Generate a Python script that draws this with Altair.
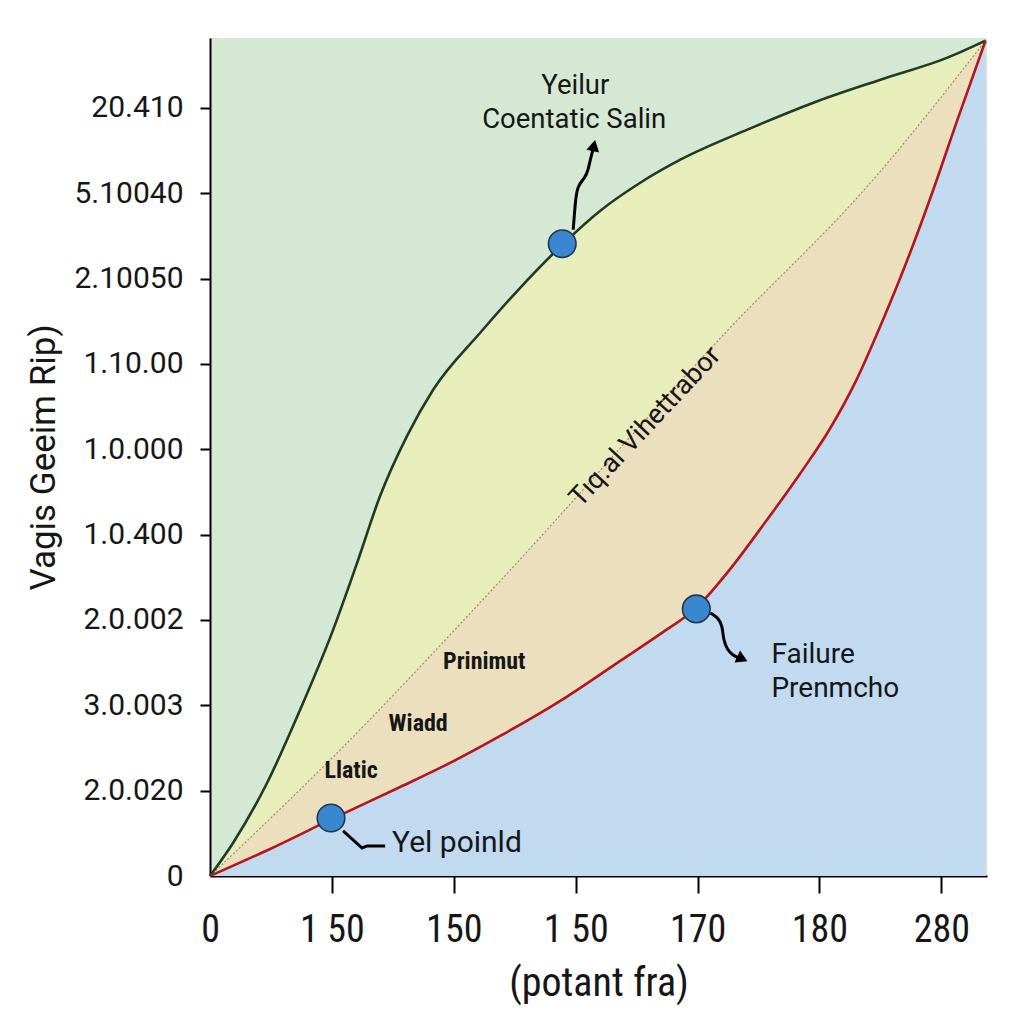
import json
import altair as alt
import pandas as pd

# ---------------- axis ticks ----------------
X_TICK_VALUES = [0, 1, 2, 3, 4, 5, 6]
X_TICK_LABELS = ["0", "1 50", "150", "1 50", "170", "180", "280"]
Y_TICK_VALUES = [0, 1, 2, 3, 4, 5, 6, 7, 8, 9]
Y_TICK_LABELS = ["0", "2.0.020", "3.0.003", "2.0.002", "1.0.400", "1.0.000",
                 "1.10.00", "2.10050", "5.10040", "20.410"]
X_TITLE = "(potant fra)"
Y_TITLE = "Vagis Geeim Rip)"
X_MAX = 6.375
Y_MAX = 9.82

# ---------------- curves ----------------
UPPER_X = [0.0, 0.189, 0.468, 0.739, 1.010, 1.207, 1.396, 1.617, 1.831, 2.217,
           2.545, 2.890, 3.202, 3.530, 3.859, 4.409, 4.951, 5.501, 6.051, 6.363]
UPPER_Y = [0.0, 0.387, 1.090, 1.946, 2.884, 3.669, 4.455, 5.158, 5.698, 6.366,
           6.893, 7.397, 7.796, 8.124, 8.394, 8.746, 9.062, 9.332, 9.590, 9.789]

LOWER_X = [0.0, 0.493, 0.985, 1.560, 1.970, 2.381, 2.874, 3.366, 3.695, 3.998,
           4.269, 4.540, 4.844, 5.090, 5.296, 5.501, 5.706, 5.911, 6.133, 6.363]
LOWER_Y = [0.0, 0.317, 0.657, 1.043, 1.325, 1.641, 2.052, 2.521, 2.837, 3.154,
           3.599, 4.115, 4.720, 5.250, 5.790, 6.448, 7.163, 7.948, 8.863, 9.789]

DIAG_X = [0.0, 1.067, 2.381, 4.228, 5.419, 6.363]
DIAG_Y = [0.0, 1.477, 3.458, 6.366, 8.124, 9.789]

# ---------------- markers & annotations ----------------
MARKER_X = [2.890, 3.990, 0.993]
MARKER_Y = [7.409, 3.130, 0.680]

UP_ARROW_X = [2.980, 2.997, 3.013, 3.079, 3.103, 3.120, 3.144]
UP_ARROW_Y = [7.573, 7.890, 8.089, 8.183, 8.277, 8.394, 8.523]
UP_HEAD = (3.150, 8.560)

FAIL_ARROW_X = [4.105, 4.171, 4.204, 4.212, 4.245, 4.286, 4.335]
FAIL_ARROW_Y = [3.083, 3.025, 2.931, 2.767, 2.649, 2.591, 2.556]
FAIL_HEAD = (4.368, 2.544)

YEL_LINK_X = [1.092, 1.248, 1.289, 1.437]
YEL_LINK_Y = [0.528, 0.328, 0.352, 0.352]

TOP_TEXT = ["Yeilur", "Coentatic Salin"]
TOP_TEXT_X = [2.997, 2.988]
TOP_TEXT_Y = [9.261, 8.863]

FAIL_TEXT = ["Failure", "Prenmcho"]
FAIL_TEXT_X = [4.606, 4.606]
FAIL_TEXT_Y = [2.591, 2.192]

YEL_TEXT = ["Yel poinld"]
YEL_TEXT_X = [1.494]
YEL_TEXT_Y = [0.387]

BAND_TEXT = ["Prinimut", "Wiadd", "Llatic"]
BAND_TEXT_X = [2.250, 1.708, 1.158]
BAND_TEXT_Y = [2.509, 1.782, 1.231]

DIAG_TEXT = ["Tıq.al Vihettrabor"]
DIAG_TEXT_X = [3.571]
DIAG_TEXT_Y = [5.264]

# ---------------- styling ----------------
C_GREEN = "#d4e8d3"
C_YELLOW = "#e7edbb"
C_BEIGE = "#ebdfbd"
C_BLUE = "#c2daf0"
C_UPPER = "#1d3b25"
C_RED = "#b3161b"
C_DOT = "#9a8d68"
C_MARK = "#3a87cf"
C_MARK_EDGE = "#1f3550"
C_TEXT = "#161616"
FONT = "Roboto"
NARROW = "Liberation Sans Narrow, Roboto Condensed, Arial Narrow, Roboto"

xs = alt.Scale(domain=[0, X_MAX], nice=False, zero=False)
ys = alt.Scale(domain=[0, Y_MAX], nice=False, zero=False)

x_axis = alt.Axis(
    values=X_TICK_VALUES,
    labelExpr=json.dumps(X_TICK_LABELS) + "[datum.value]",
    title=X_TITLE, grid=False, domainColor="black", domainWidth=2,
    tickColor={"condition": {"test": "datum.value === 0", "value": "transparent"}, "value": "black"},
    tickWidth=2, tickSize=17, labelPadding=18, labelFont=NARROW, labelFontSize=38,
    labelColor=C_TEXT, titleFont=NARROW, titleFontSize=40, titleFontWeight="normal",
    titleColor=C_TEXT, titlePadding=14, labelFlush=False,
)
y_axis = alt.Axis(
    values=Y_TICK_VALUES,
    labelExpr=json.dumps(Y_TICK_LABELS) + "[datum.value]",
    title=Y_TITLE, grid=False, domainColor="black", domainWidth=2,
    tickColor={"condition": {"test": "datum.value === 0", "value": "transparent"}, "value": "black"},
    tickWidth=2, tickSize=10, labelPadding=17, labelFont=FONT, labelFontSize=30,
    labelColor=C_TEXT, titleFont=FONT, titleFontSize=35, titleFontWeight="normal",
    titleColor=C_TEXT, titlePadding=12, labelFlush=False,
)


def X():
    return alt.X("x:Q", scale=xs, axis=x_axis)


def Y():
    return alt.Y("y:Q", scale=ys, axis=y_axis)


def frame(xv, yv, text=None):
    d = {"x": xv, "y": yv, "i": list(range(len(xv)))}
    if text is not None:
        d["t"] = text
    return pd.DataFrame(d)


upper = frame(UPPER_X, UPPER_Y)
lower = frame(LOWER_X, LOWER_Y)
diag = frame(DIAG_X, DIAG_Y)

area_upper = alt.Chart(upper).mark_area(color=C_YELLOW, opacity=1, interpolate="monotone").encode(x=X(), y=Y())
area_diag = alt.Chart(diag).mark_area(color=C_BEIGE, opacity=1, interpolate="monotone").encode(x=X(), y=Y())
area_lower = alt.Chart(lower).mark_area(color=C_BLUE, opacity=1, interpolate="monotone").encode(x=X(), y=Y())

line_diag = alt.Chart(diag).mark_line(color=C_DOT, strokeWidth=1.2, strokeDash=[2, 2],
                                      interpolate="monotone").encode(x=X(), y=Y())
line_upper = alt.Chart(upper).mark_line(color=C_UPPER, strokeWidth=2.6,
                                        interpolate="monotone").encode(x=X(), y=Y())
line_lower = alt.Chart(lower).mark_line(color=C_RED, strokeWidth=2.6,
                                        interpolate="monotone").encode(x=X(), y=Y())

up_arrow = alt.Chart(frame(UP_ARROW_X, UP_ARROW_Y)).mark_line(
    color="black", strokeWidth=3, interpolate="basis").encode(x=X(), y=Y(), order="i:Q")
fail_arrow = alt.Chart(frame(FAIL_ARROW_X, FAIL_ARROW_Y)).mark_line(
    color="black", strokeWidth=3, interpolate="basis").encode(x=X(), y=Y(), order="i:Q")
yel_link = alt.Chart(frame(YEL_LINK_X, YEL_LINK_Y)).mark_line(
    color="black", strokeWidth=3).encode(x=X(), y=Y(), order="i:Q")

up_head = alt.Chart(frame([UP_HEAD[0]], [UP_HEAD[1]])).mark_point(
    shape="triangle-up", filled=True, color="black", opacity=1, size=170, angle=12).encode(x=X(), y=Y())
fail_head = alt.Chart(frame([FAIL_HEAD[0]], [FAIL_HEAD[1]])).mark_point(
    shape="triangle-right", filled=True, color="black", opacity=1, size=170, angle=25).encode(x=X(), y=Y())

markers = alt.Chart(frame(MARKER_X, MARKER_Y)).mark_point(
    shape="circle", filled=True, fill=C_MARK, stroke=C_MARK_EDGE, strokeWidth=1.6,
    opacity=1, size=760).encode(x=X(), y=Y())

top_text = alt.Chart(frame(TOP_TEXT_X, TOP_TEXT_Y, TOP_TEXT)).mark_text(
    font=FONT, fontSize=27.5, color=C_TEXT, align="center", baseline="middle").encode(x=X(), y=Y(), text="t:N")
fail_text = alt.Chart(frame(FAIL_TEXT_X, FAIL_TEXT_Y, FAIL_TEXT)).mark_text(
    font=FONT, fontSize=28, color=C_TEXT, align="left", baseline="middle").encode(x=X(), y=Y(), text="t:N")
yel_text = alt.Chart(frame(YEL_TEXT_X, YEL_TEXT_Y, YEL_TEXT)).mark_text(
    font=FONT, fontSize=30, color=C_TEXT, align="left", baseline="middle").encode(x=X(), y=Y(), text="t:N")
band_text = alt.Chart(frame(BAND_TEXT_X, BAND_TEXT_Y, BAND_TEXT)).mark_text(
    font=NARROW, fontSize=24, fontWeight="bold", color=C_TEXT, align="center",
    baseline="middle").encode(x=X(), y=Y(), text="t:N")
diag_text = alt.Chart(frame(DIAG_TEXT_X, DIAG_TEXT_Y, DIAG_TEXT)).mark_text(
    font=FONT, fontSize=27, color=C_TEXT, align="center", baseline="middle",
    angle=313).encode(x=X(), y=Y(), text="t:N")

chart = alt.layer(
    area_upper, area_diag, area_lower,
    line_diag, line_upper, line_lower,
    up_arrow, fail_arrow, yel_link, up_head, fail_head,
    markers, top_text, fail_text, yel_text, band_text, diag_text,
).properties(
    width=777, height=838,
    padding={"left": 18, "top": 27, "right": 5, "bottom": 5},
    background="white",
).configure_view(
    fill=C_GREEN, stroke=None,
)

chart.save("out.html", embed_options={"renderer": "svg", "actions": False})
